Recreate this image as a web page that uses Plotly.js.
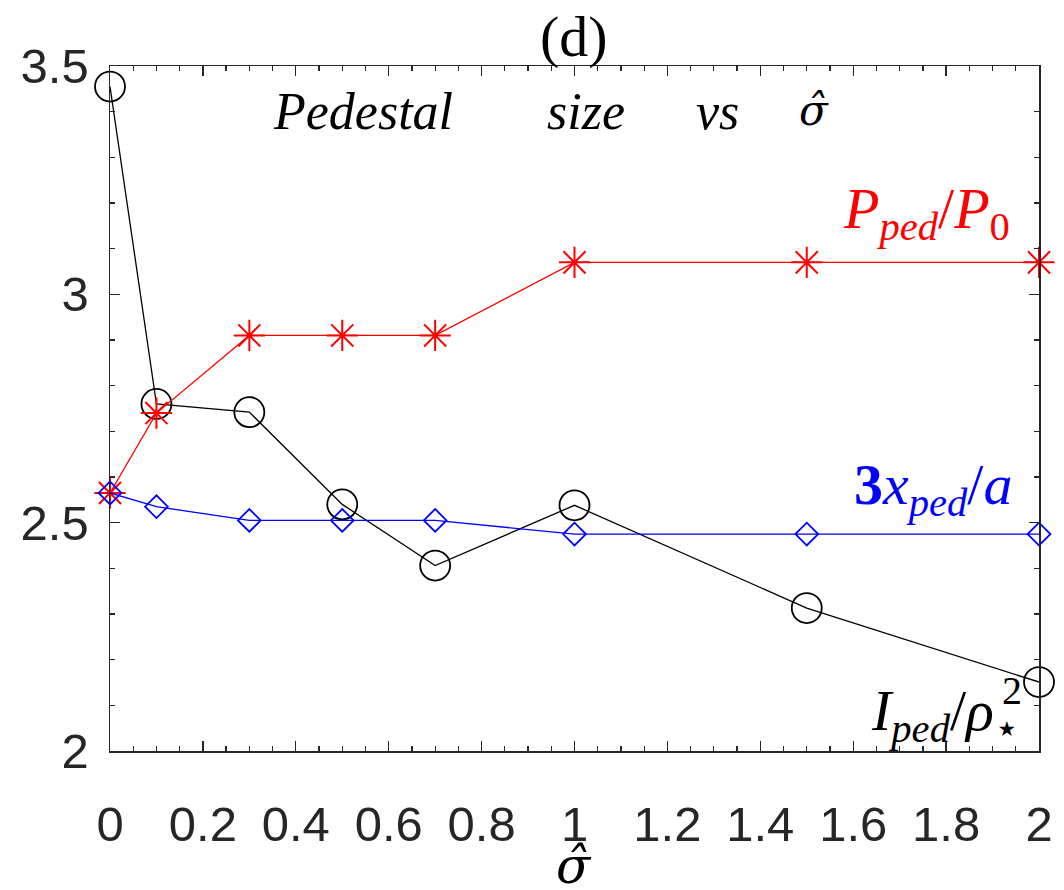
<!DOCTYPE html>
<html>
<head>
<meta charset="utf-8">
<script src="https://cdn.plot.ly/plotly-3.0.1.min.js"></script>
<style>
  html, body { margin: 0; padding: 0; background: #ffffff; }
  #chart { width: 1064px; height: 890px; }
</style>
</head>
<body>
<div id="chart"></div>
<script>
// Magnetic shear values (sigma hat)
const sigmaHat = [0, 0.1, 0.3, 0.5, 0.7, 1.0, 1.5, 2.0];

// Pedestal pressure ratio P_ped / P_0
const pressureRatio = [2.565, 2.74, 2.91, 2.91, 2.91, 3.07, 3.07, 3.07];

// Pedestal width 3 x_ped / a
const widthRatio = [2.565, 2.535, 2.505, 2.505, 2.505, 2.475, 2.475, 2.475];

// Pedestal current I_ped / rho_star^2
const currentRatio = [3.455, 2.76, 2.742, 2.54, 2.406, 2.538, 2.313, 2.151];

const xTickVals = [0, 0.2, 0.4, 0.6, 0.8, 1, 1.2, 1.4, 1.6, 1.8, 2];
const xTickText = ['0', '0.2', '0.4', '0.6', '0.8', '1', '1.2', '1.4', '1.6', '1.8', '2'];
const yTickVals = [2, 2.5, 3, 3.5];
const yTickText = ['2', '2.5', '3', '3.5'];

const serif = 'Liberation Serif, Times New Roman, serif';
const mathSerif = 'DejaVu Serif, serif';
const sans = 'Liberation Sans, Arial, Helvetica, sans-serif';
const axisColor = '#262626';
const sigmaHatText = '<i>σ\u0302</i>';

const traces = [
  {
    x: sigmaHat, y: currentRatio, type: 'scatter', mode: 'lines+markers',
    line: { color: '#000000', width: 1.3 },
    marker: { symbol: 'circle-open', size: 30, color: '#000000', line: { width: 1.8, color: '#000000' } },
    cliponaxis: false, showlegend: false
  },
  {
    x: sigmaHat, y: pressureRatio, type: 'scatter', mode: 'lines+markers',
    line: { color: '#ff0000', width: 1.3 },
    marker: { symbol: 'asterisk-open', size: 26, color: '#ff0000', line: { width: 2, color: '#ff0000' } },
    cliponaxis: false, showlegend: false
  },
  {
    x: sigmaHat, y: widthRatio, type: 'scatter', mode: 'lines+markers',
    line: { color: '#0000ff', width: 1.3 },
    marker: { symbol: 'diamond-open', size: 17.5, color: '#0000ff', line: { width: 1.8, color: '#0000ff' } },
    cliponaxis: false, showlegend: false
  }
];

const axisCommon = {
  showgrid: false, zeroline: false, showline: true, mirror: 'ticks',
  linecolor: axisColor, linewidth: 1.5,
  ticks: 'inside', tickcolor: axisColor, tickwidth: 1.3, ticklen: 10,
  tickfont: { family: sans, size: 49, color: axisColor },
  tickmode: 'array'
};

// pixel geometry of the plotting box, used to place text labels
const box = { l: 110, r: 1039, t: 66, b: 751 };
const px = (x) => (x - box.l) / (box.r - box.l);
const py = (y) => (box.b - y) / (box.b - box.t);

function label(text, x, y, size, color, anchor, family) {
  return {
    text: text, xref: 'paper', yref: 'paper', x: px(x), y: py(y),
    xanchor: anchor || 'center', yanchor: 'middle', showarrow: false,
    font: { family: family || serif, size: size, color: color || '#000000' }
  };
}

const layout = {
  width: 1064, height: 890,
  margin: { l: box.l, r: 1064 - box.r, t: box.t, b: 890 - box.b, pad: 0, autoexpand: false },
  paper_bgcolor: '#ffffff', plot_bgcolor: '#ffffff',
  xaxis: Object.assign({}, axisCommon, {
    range: [0, 2], tickvals: xTickVals, ticktext: xTickText,
    ticklabelstandoff: 30,
    minor: { dtick: 0.05, ticks: 'inside', ticklen: 5, tickcolor: axisColor, tickwidth: 1.3 }
  }),
  yaxis: Object.assign({}, axisCommon, {
    range: [2, 3.5], tickvals: yTickVals, ticktext: yTickText,
    ticklabelstandoff: 10,
    minor: { dtick: 0.1, ticks: 'inside', ticklen: 5, tickcolor: axisColor, tickwidth: 1.3 }
  }),
  annotations: [
    // panel tag
    label('(d)', 574, 36, 58),
    // heading inside the axes
    label('<i>Pedestal</i>', 363, 112, 52),
    label('<i>size</i>', 586, 112, 52),
    label('<i>vs</i>', 717, 112, 52),
    label(sigmaHatText, 814, 110, 42, '#000000', 'center', mathSerif),
    // curve labels
    label('<i>P</i><sub><i>ped</i></sub>/<i>P</i><sub>0</sub>', 1012, 212, 58, '#ff0000', 'right'),
    label('<b>3</b><i>x</i><sub><i>ped</i></sub>/<i>a</i>', 1014, 488, 58, '#0000ff', 'right'),
    label('<i>I</i><sub><i>ped</i></sub>/<i>ρ</i><sub>⋆</sub>', 1022, 714, 58, '#000000', 'right'),
    label('2', 1012, 690, 40),
    // x-axis label
    label(sigmaHatText, 574, 866, 50, '#000000', 'center', mathSerif)
  ]
};

Plotly.newPlot('chart', traces, layout, { displayModeBar: false, staticPlot: true });
</script>
</body>
</html>
